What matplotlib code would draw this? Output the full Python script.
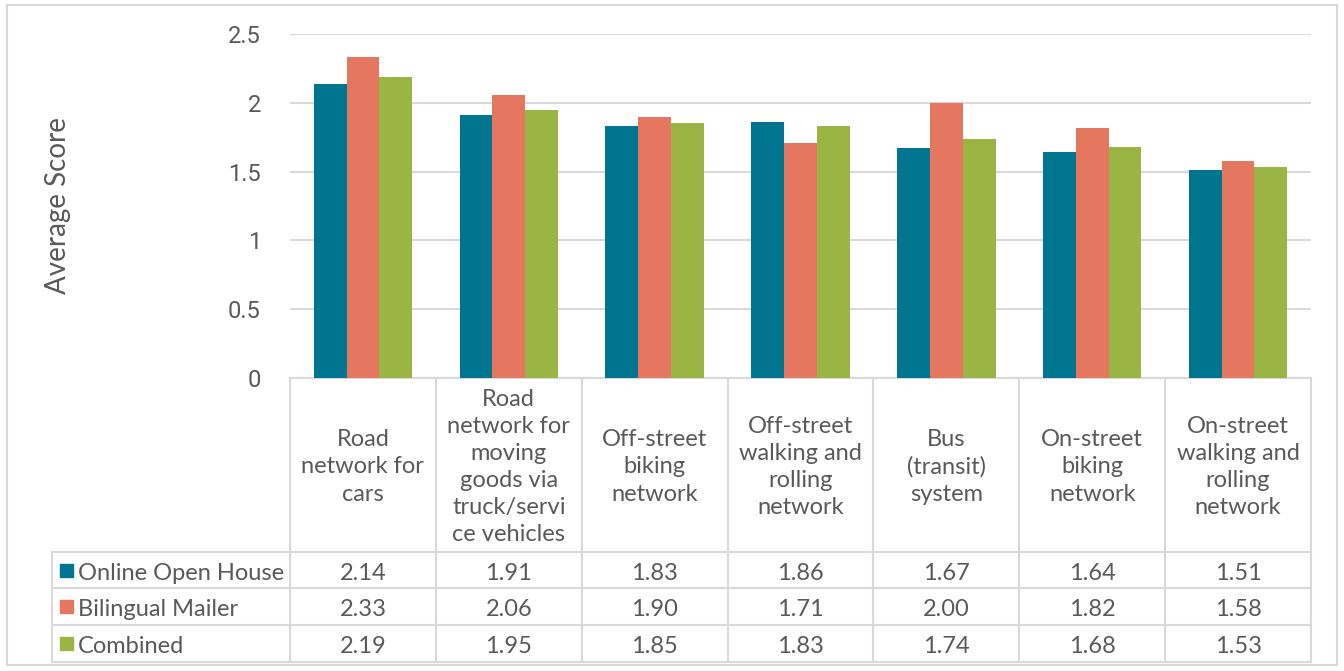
import numpy as np
import matplotlib
matplotlib.use('Agg')
import matplotlib.pyplot as plt
from matplotlib.transforms import blended_transform_factory
from matplotlib.patches import Rectangle

categories = ['Road\nnetwork for\ncars',
              'Road\nnetwork for\nmoving\ngoods via\ntruck/servi\nce vehicles',
              'Off-street\nbiking\nnetwork',
              'Off-street\nwalking and\nrolling\nnetwork',
              'Bus\n(transit)\nsystem',
              'On-street\nbiking\nnetwork',
              'On-street\nwalking and\nrolling\nnetwork']
series_names = ['Online Open House', 'Bilingual Mailer', 'Combined']
online = [2.14, 1.91, 1.83, 1.86, 1.67, 1.64, 1.51]
mailer = [2.33, 2.06, 1.90, 1.71, 2.00, 1.82, 1.58]
combined = [2.19, 1.95, 1.85, 1.83, 1.74, 1.68, 1.53]
colors = ['#00758f', '#e5765f', '#9bb545']
yticks = [0, 0.5, 1, 1.5, 2, 2.5]

txt = '#595959'
grid = '#d9d9d9'
W, H = 1344, 671
fs = 17

fig = plt.figure(figsize=(W/100, H/100), dpi=100)
fig.patch.set_facecolor('white')
fig.add_artist(Rectangle((7/W, 1-665/H), 1330/W, 660/H, transform=fig.transFigure,
                         fill=False, edgecolor=grid, lw=1.5))

ax = fig.add_axes([290/W, 1-378/H, 1021/W, 344/H])
x = np.arange(len(categories))
bw = 0.225
for i, vals in enumerate([online, mailer, combined]):
    ax.bar(x + (i-1)*bw, vals, width=bw, color=colors[i], zorder=3)

ax.set_xlim(-0.5, len(categories)-0.5)
ax.set_ylim(0, 2.5)
ax.set_yticks(yticks)
ax.set_yticklabels(['0', '0.5', '1', '1.5', '2', '2.5'], fontfamily='Roboto', fontsize=fs, color=txt)
ax.tick_params(axis='y', length=0, pad=21)
ax.set_xticks([])
ax.yaxis.grid(True, color=grid, lw=1.5, zorder=0)
for s in ['top', 'right', 'left']:
    ax.spines[s].set_visible(False)
ax.spines['bottom'].set_color(grid)
ax.spines['bottom'].set_linewidth(1.5)
fig.text(58/W, 1-206/H, 'Average Score', rotation=90, ha='center', va='center',
         fontfamily='Lato', fontsize=20, color=txt)

# data table under the plot
tr = blended_transform_factory(ax.transData, ax.transAxes)
rows_px = [378, 552, 588, 625, 662]
rows = [(378-r)/344 for r in rows_px]
left = -0.5 - 238/(1021/7)
n = len(categories)
for k in range(n+1):
    ax.plot([k-0.5, k-0.5], [rows[0], rows[-1]], color=grid, lw=1.5, transform=tr, clip_on=False)
ax.plot([left, left], [rows[1], rows[-1]], color=grid, lw=1.5, transform=tr, clip_on=False)
for r in rows[1:]:
    ax.plot([left, n-0.5], [r, r], color=grid, lw=1.5, transform=tr, clip_on=False)

for k, c in enumerate(categories):
    ax.text(k, (rows[0]+rows[1])/2 - 2/344, c, ha='center', va='center', transform=tr,
            fontfamily='Lato', fontsize=fs, color=txt, linespacing=1.36)

for j, vals in enumerate([online, mailer, combined]):
    yc = (rows[j+1]+rows[j+2])/2
    ty = yc - 3/344
    for k, v in enumerate(vals):
        ax.text(k, ty, f'{v:.2f}', ha='center', va='center', transform=tr,
                fontfamily='Lato', fontsize=fs, color=txt)
    ax.add_patch(Rectangle((left + 8/145.86, yc - 6.5/344), 13/145.86, 13/344, transform=tr,
                           color=colors[j], clip_on=False))
    ax.text(left + 26/145.86, ty, series_names[j], ha='left', va='center', transform=tr,
            fontfamily='Lato', fontsize=fs, color=txt)

fig.savefig('out.png', dpi=100)
